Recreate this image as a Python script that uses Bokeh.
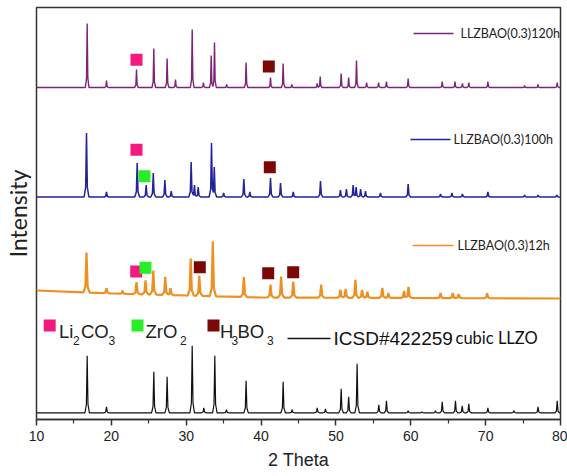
import numpy as np
from bokeh.plotting import figure
from bokeh.models import Range1d, FixedTicker
from bokeh.embed import file_html
from bokeh.resources import INLINE
from bokeh.core.properties import value

# ---------------- data ----------------
# peak positions (2 theta, deg) and peak heights (a.u.) for each pattern
black_pos = [16.77, 19.35, 25.67, 27.45, 30.8, 32.35, 33.82, 35.38, 38.0, 42.95, 44.15,
             47.5, 48.6, 50.7, 51.7, 52.83, 55.73, 56.75, 59.65, 61.5, 63.3, 64.2,
             65.97, 66.87, 67.75, 70.3, 73.77, 77.0, 79.56]
black_h = [57, 6, 41, 36, 67, 5, 57, 3, 32, 31, 3,
           5, 4, 24, 16, 49, 8, 12, 2, 1, 2, 11,
           12, 7, 9, 5, 2, 6, 12]

orange_pos = [16.68, 19.35, 21.5, 23.36, 24.56, 25.6, 27.2, 27.9, 30.6, 31.75, 33.55,
              37.7, 41.26, 42.68, 44.3, 48.03, 50.6, 51.3, 52.6, 53.5, 54.2, 56.2,
              57.0, 59.1, 59.7, 63.97, 65.6, 66.4, 70.2]
orange_h = [40, 5, 3, 12, 14, 24, 18, 7, 37, 20, 55,
            20, 13, 21, 16, 13, 8, 9, 18, 8, 6, 10,
            5, 7, 11, 5, 5, 4, 5]

blue_pos = [16.68, 19.35, 23.45, 24.65, 25.6, 27.15, 28.0, 30.66, 31.1, 31.6, 33.38,
            33.75, 35.0, 37.7, 38.5, 41.26, 42.6, 44.3, 47.94, 50.6, 51.4, 52.3,
            52.7, 53.3, 53.95, 55.95, 59.65, 63.97, 65.5, 66.9, 70.3, 75.2, 77.0, 79.5]
blue_h = [64, 5, 34, 12, 24, 17, 6, 35, 12, 10, 54,
          30, 4, 18, 5, 19, 14, 5, 16, 7, 8, 12,
          10, 8, 6, 4, 13, 3, 4, 3, 5, 2, 2, 2]

purple_pos = [16.77, 19.35, 23.36, 25.67, 27.45, 28.57, 30.8, 32.3, 33.34, 33.78, 35.4,
              38.0, 41.26, 42.95, 44.1, 47.5, 47.9, 50.7, 51.7, 52.75, 54.1, 55.7,
              56.75, 59.65, 64.2, 65.9, 66.9, 67.75, 70.3, 75.2, 77.0, 79.56]
purple_h = [64, 7, 18, 39, 29, 8, 58, 5, 32, 45, 3,
            25, 10, 24, 3, 4, 11, 14, 10, 27, 5, 5,
            6, 9, 6, 6, 4, 5, 6, 2, 3, 5]

# baselines (2 theta, level)
black_base_x, black_base_y = [10, 80], [6.7, 6.7]
orange_base_x, orange_base_y = [10, 20, 30, 40, 80], [129, 126, 124, 122, 121]
blue_base_x, blue_base_y = [10, 80], [222.5, 222.5]
purple_base_x, purple_base_y = [10, 80], [332, 332]

series_names = ["ICSD#422259", "LLZBAO(0.3)12h", "LLZBAO(0.3)100h", "LLZBAO(0.3)120h"]
phase_names = ["Li2CO3", "ZrO2", "H3BO3"]
x_ticks = [10, 20, 30, 40, 50, 60, 70, 80]

# ---------------- helpers ----------------
X0, X1 = 10, 80
PX_L, PX_R, PY_T, PY_B = 36, 560, 7, 419


def sx(px):
    return X0 + (px - PX_L) * (X1 - X0) / (PX_R - PX_L)


def sy(py):
    return PY_B - py


def trace(pos, h, w, bx, by):
    pts = [X0, X1] + list(bx)
    for p in pos:
        pts += [p - w, p - 0.35 * w, p, p + 0.35 * w, p + w]
    xs = np.unique(np.clip(np.array(pts, float), X0, X1))
    env = np.zeros_like(xs)
    for p, hh in zip(pos, h):
        prof = np.interp(xs, [p - w, p - 0.35 * w, p, p + 0.35 * w, p + w],
                         [0, 0.15 * hh, hh, 0.15 * hh, 0], left=0, right=0)
        env = np.maximum(env, prof)
    return xs, np.interp(xs, bx, by) + env


PURPLE = "#7b2479"
BLUE = "#23239c"
ORANGE = "#ee8f24"
BLACK = "#111111"
PINK = "#f5197e"
GREEN = "#27ee27"
DRED = "#7a0808"

p = figure(width=567, height=476, output_backend="svg", toolbar_location=None,
           x_range=Range1d(X0, X1), y_range=Range1d(0, PY_B - PY_T),
           min_border_left=PX_L, min_border_right=567 - PX_R,
           min_border_top=PY_T, min_border_bottom=476 - PY_B)
p.background_fill_color = "white"
p.border_fill_color = "white"
p.grid.visible = False
p.outline_line_color = "#333333"
p.outline_line_width = 1.5

yax = p.yaxis[0]
yax.ticker = FixedTicker(ticks=[])
yax.axis_line_color = None
yax.major_tick_out = 0
yax.major_tick_in = 0
yax.minor_tick_out = 0
yax.minor_tick_in = 0
yax.major_label_standoff = 0
yax.axis_label = "Intensity"
yax.axis_label_text_font = "Lato"
yax.axis_label_text_font_size = "23px"
yax.axis_label_text_font_style = "normal"
yax.axis_label_text_color = "#222222"
yax.axis_label_standoff = 5

ax = p.xaxis[0]
ax.ticker = FixedTicker(ticks=x_ticks, minor_ticks=[15, 25, 35, 45, 55, 65, 75])
ax.axis_line_color = "#333333"
ax.axis_line_width = 1.5
ax.major_tick_line_color = "#333333"
ax.major_tick_line_width = 1.5
ax.major_tick_in = 0
ax.major_tick_out = 6
ax.minor_tick_line_color = "#333333"
ax.minor_tick_line_width = 1.2
ax.minor_tick_in = 0
ax.minor_tick_out = 4
ax.major_label_standoff = 5
ax.major_label_text_font = "Liberation Sans"
ax.major_label_text_font_size = "14px"
ax.major_label_text_color = "#222222"
ax.axis_label = "2 Theta"
ax.axis_label_text_font = "Liberation Sans"
ax.axis_label_text_font_size = "18px"
ax.axis_label_text_font_style = "normal"
ax.axis_label_text_color = "#222222"
ax.axis_label_standoff = 6

# patterns
for pos, h, w, bx, by, col, lw in [
    (black_pos, black_h, 0.3, black_base_x, black_base_y, BLACK, 1.2),
    (orange_pos, orange_h, 0.42, orange_base_x, orange_base_y, ORANGE, 2.2),
    (blue_pos, blue_h, 0.32, blue_base_x, blue_base_y, BLUE, 1.5),
    (purple_pos, purple_h, 0.24, purple_base_x, purple_base_y, PURPLE, 1.4),
]:
    xs, ys = trace(pos, h, w, bx, by)
    p.line(xs, ys, line_color=col, line_width=lw)

# phase markers on the patterns (picture pixel positions)
marks = [
    (136, 59.3, PINK), (268.3, 66, DRED),
    (136, 149.3, PINK), (144, 175.7, GREEN), (269.3, 166.7, DRED),
    (135.7, 271, PINK), (145, 267.3, GREEN), (199.3, 266.7, DRED),
    (267.7, 272.7, DRED), (292.7, 271.7, DRED),
    (49.2, 325, PINK), (137, 325, GREEN), (213, 325, DRED),
]
p.scatter([sx(m[0]) for m in marks], [sy(m[1]) for m in marks], marker="square",
          size=12, fill_color=[m[2] for m in marks], line_color=None)

# series legends
leg = [
    (413, 453, 33, PURPLE, series_names[3], 460),
    (410, 450, 139, BLUE, series_names[2], 453),
    (412, 453, 245, ORANGE, series_names[1], 457),
]
for x0, x1, yy, col, name, tx in leg:
    p.line([sx(x0), sx(x1)], [sy(yy), sy(yy)], line_color=col, line_width=1.5)
    p.text([sx(tx)], [sy(yy)], text=[name], text_font=value("Lato"),
           text_font_size="12.5px", text_baseline="middle", text_align="left",
           text_color="#222222")

p.line([sx(287), sx(330)], [sy(338), sy(338)], line_color=BLACK, line_width=1.3)
p.text([sx(333)], [sy(338)], text=[series_names[0]], text_font=value("Liberation Sans"),
       text_font_size="19px", text_baseline="middle", text_align="left", text_color="#111111")
p.text([sx(455)], [sy(337)], text=["cubic LLZO"], text_font=value("Lato"),
       text_font_size="16.5px", text_baseline="middle", text_align="left", text_color="#111111")

# phase legend with subscripts
pieces = [
    ("Li", 58.5, 331, 18.5), ("2", 72.5, 339.5, 12), ("CO", 80.5, 331, 18.5), ("3", 108.0, 340, 12),
    ("ZrO", 145.0, 331, 18.5), ("2", 179.5, 339.5, 12),
    ("H", 219.5, 331, 18.5), ("3", 231.0, 339.5, 12), ("BO", 237.0, 331, 18.5), ("3", 266.5, 340, 12),
]
for t, px, py, fs in pieces:
    p.text([sx(px)], [sy(py)], text=[t], text_font=value("Liberation Sans"),
           text_font_size=f"{fs}px", text_baseline="alphabetic", text_align="left",
           text_color="#222222")

open("out.html", "w").write(file_html(p, INLINE))
